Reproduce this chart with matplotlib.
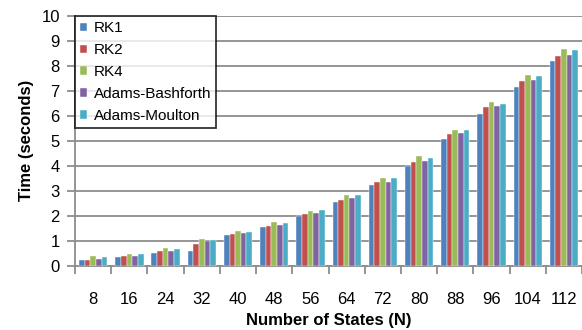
import numpy as np
import matplotlib
matplotlib.use("Agg")
import matplotlib.pyplot as plt
from matplotlib.patches import Patch

# -------------------------
# DATA
# -------------------------
states = [8, 16, 24, 32, 40, 48, 56, 64, 72, 80, 88, 96, 104, 112]
rk1 = [0.23, 0.33, 0.51, 0.60, 1.21, 1.56, 2.00, 2.55, 3.23, 3.99, 5.06, 6.07, 7.16, 8.21]
rk2 = [0.23, 0.37, 0.57, 0.85, 1.27, 1.59, 2.06, 2.64, 3.34, 4.15, 5.26, 6.34, 7.41, 8.41]
rk4 = [0.37, 0.48, 0.69, 1.07, 1.39, 1.75, 2.20, 2.82, 3.51, 4.37, 5.43, 6.56, 7.62, 8.68]
ab = [0.28, 0.39, 0.60, 1.00, 1.30, 1.62, 2.10, 2.70, 3.36, 4.18, 5.33, 6.38, 7.45, 8.45]
am = [0.35, 0.48, 0.67, 1.04, 1.36, 1.71, 2.22, 2.82, 3.51, 4.31, 5.42, 6.49, 7.60, 8.62]

series = [rk1, rk2, rk4, ab, am]
names = ["RK1", "RK2", "RK4", "Adams-Bashforth", "Adams-Moulton"]
colors = ["#4F81BD", "#C0504D", "#9BBB59", "#8064A2", "#4BACC6"]

plt.rcParams["font.family"] = ["Liberation Sans", "DejaVu Sans"]

fig = plt.figure(figsize=(5.82, 3.30), dpi=100)
ax = fig.add_axes([0.129, 0.195, 0.871, 0.757])

x = np.arange(len(states))
bw = 0.156
for i, (vals, c) in enumerate(zip(series, colors)):
    ax.bar(x + (i - 2) * bw, vals, width=bw, color=c, edgecolor="white",
           linewidth=0.3, zorder=3)

grid_c = "#8C8C8C"
ax.set_ylim(0, 10)
ax.set_yticks(range(0, 11))
ax.yaxis.grid(True, color=grid_c, linewidth=1.3, zorder=0)
ax.set_xlim(-0.5, len(states) - 0.5)

ax.set_xticks(x)
ax.set_xticklabels([str(s) for s in states])
ax.set_xticks(np.arange(-0.5, len(states)), minor=True)
ax.tick_params(axis="x", which="major", length=0, pad=19, labelsize=12)
ax.tick_params(axis="x", which="minor", length=6, color=grid_c, width=1.3)
ax.tick_params(axis="y", length=6, color=grid_c, width=1.3, labelsize=12, pad=5)

for side in ["top", "right"]:
    ax.spines[side].set_visible(False)
for side in ["left", "bottom"]:
    ax.spines[side].set_color(grid_c)
    ax.spines[side].set_linewidth(1.3)

ax.set_ylabel("Time (seconds)", fontsize=12, fontweight="bold", labelpad=5)
ax.set_xlabel("Number of States (N)", fontsize=12, fontweight="bold", labelpad=4)

handles = [Patch(facecolor=c, edgecolor="white", linewidth=0.3) for c in colors]
leg = ax.legend(handles, names, loc="upper left", bbox_to_anchor=(0.0, 1.0),
                borderaxespad=0, fontsize=11, frameon=True, fancybox=False,
                handlelength=0.46, handleheight=0.46, handletextpad=0.4,
                labelspacing=0.52, borderpad=0.35)
leg.get_frame().set_edgecolor("black")
leg.get_frame().set_linewidth(1.3)
leg.set_zorder(5)

fig.savefig("out.png", dpi=100)
